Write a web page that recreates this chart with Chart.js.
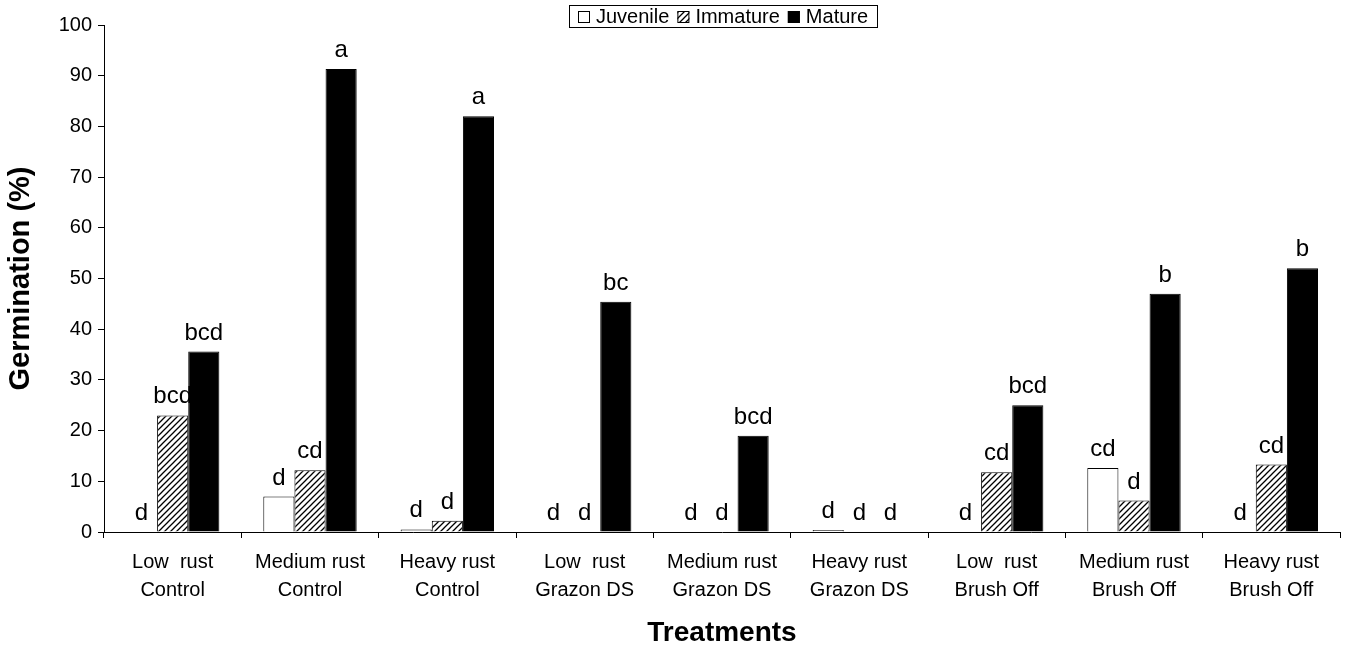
<!DOCTYPE html>
<html>
<head>
<meta charset="utf-8">
<script src="https://cdn.jsdelivr.net/npm/chart.js@4/dist/chart.umd.min.js"></script>
<style>
  body { margin: 0; background: #fff; }
  #wrap { width: 1350px; height: 650px; }
</style>
</head>
<body>
<div id="wrap"><canvas id="chart" width="1350" height="650"></canvas></div>
<script>
// data
const treatments = [
  ['Low  rust', 'Control'], ['Medium rust', 'Control'], ['Heavy rust', 'Control'],
  ['Low  rust', 'Grazon DS'], ['Medium rust', 'Grazon DS'], ['Heavy rust', 'Grazon DS'],
  ['Low  rust', 'Brush Off'], ['Medium rust', 'Brush Off'], ['Heavy rust', 'Brush Off']
];
const juvenile = [0, 7, 0.5, 0, 0, 0.4, 0, 12.6, 0];
const immature = [23, 12.2, 2.2, 0, 0, 0, 11.8, 6.2, 13.3];
const mature = [35.6, 91.3, 82, 45.4, 19, 0, 25, 47, 52];
const juvenileLetters = ['d', 'd', 'd', 'd', 'd', 'd', 'd', 'cd', 'd'];
const immatureLetters = ['bcd', 'cd', 'd', 'd', 'd', 'd', 'cd', 'd', 'cd'];
const matureLetters = ['bcd', 'a', 'a', 'bc', 'bcd', 'd', 'bcd', 'b', 'b'];

const FONT = '"Liberation Sans", Arial, sans-serif';

// diagonal hatch for the immature bars
function makeHatch() {
  const s = 6;
  const c = document.createElement('canvas');
  c.width = s; c.height = s;
  const g = c.getContext('2d');
  g.fillStyle = '#fff';
  g.fillRect(0, 0, s, s);
  g.strokeStyle = '#000';
  g.lineWidth = 1.3;
  g.beginPath();
  g.moveTo(0, s); g.lineTo(s, 0);
  g.moveTo(-1, 1); g.lineTo(1, -1);
  g.moveTo(s - 1, s + 1); g.lineTo(s + 1, s - 1);
  g.stroke();
  return g.createPattern(c, 'repeat');
}
const hatch = makeHatch();

// letters above each bar
const letterPlugin = {
  id: 'letters',
  afterDatasetsDraw(chart) {
    const ctx = chart.ctx;
    ctx.save();
    ctx.font = '24px ' + FONT;
    ctx.fillStyle = '#000';
    ctx.textAlign = 'center';
    ctx.textBaseline = 'alphabetic';
    chart.data.datasets.forEach((ds, i) => {
      const meta = chart.getDatasetMeta(i);
      meta.data.forEach((bar, j) => {
        ctx.fillText(ds.letters[j], bar.x, bar.y - 12);
      });
    });
    ctx.restore();
  }
};

// boxed legend drawn over the top of the plot
const boxLegend = {
  id: 'boxLegend',
  afterDraw(chart) {
    const ctx = chart.ctx;
    ctx.save();
    ctx.font = '20px ' + FONT;
    const sw = 12, gap = 6, itemGap = 8;
    const items = chart.data.datasets;
    let total = 0;
    items.forEach((ds, i) => {
      total += sw + gap + ctx.measureText(ds.label).width + (i < items.length - 1 ? itemGap : 0);
    });
    const padX = 9;
    const boxW = Math.round(total + padX * 2), boxH = 22;
    const x0 = Math.round(723 - boxW / 2), y0 = 5;
    ctx.fillStyle = '#fff';
    ctx.fillRect(x0, y0, boxW, boxH);
    ctx.strokeStyle = '#000';
    ctx.lineWidth = 1;
    ctx.strokeRect(x0 + 0.5, y0 + 0.5, boxW, boxH);
    let x = x0 + padX;
    const cy = y0 + boxH / 2 + 1;
    items.forEach(ds => {
      ctx.fillStyle = ds.backgroundColor;
      ctx.fillRect(x, cy - sw / 2, sw, sw);
      ctx.strokeStyle = '#000';
      ctx.strokeRect(x + 0.5, cy - sw / 2 + 0.5, sw - 1, sw - 1);
      x += sw + gap;
      ctx.fillStyle = '#000';
      ctx.textBaseline = 'middle';
      ctx.fillText(ds.label, x, cy);
      x += ctx.measureText(ds.label).width + itemGap;
    });
    ctx.restore();
  }
};

new Chart(document.getElementById('chart'), {
  type: 'bar',
  data: {
    labels: treatments,
    datasets: [
      { label: 'Juvenile', data: juvenile, letters: juvenileLetters, backgroundColor: '#fff', borderColor: '#000', borderWidth: 1 },
      { label: 'Immature', data: immature, letters: immatureLetters, backgroundColor: hatch, borderColor: '#000', borderWidth: 1 },
      { label: 'Mature', data: mature, letters: matureLetters, backgroundColor: '#000', borderColor: '#000', borderWidth: 1 }
    ]
  },
  options: {
    responsive: false,
    animation: false,
    layout: { padding: { left: 0, right: 10, top: 25, bottom: 0 } },
    datasets: { bar: { barPercentage: 1, categoryPercentage: 0.68 } },
    plugins: { legend: { display: false }, tooltip: { enabled: false } },
    scales: {
      x: {
        grid: { display: true, offset: true, drawOnChartArea: false, color: '#000', tickLength: 6 },
        border: { color: '#000' },
        ticks: {
          color: '#000', padding: 10, maxRotation: 0,
          font: { family: FONT, size: 20, lineHeight: 1.4 }
        },
        title: {
          display: true, text: 'Treatments', color: '#000',
          font: { family: FONT, size: 28, weight: 'bold' },
          padding: { top: 0, bottom: 0 }
        },
        afterFit(scale) { scale.height = 118; }
      },
      y: {
        min: 0, max: 100,
        grid: { display: true, drawOnChartArea: false, color: '#000', tickLength: 6 },
        border: { color: '#000' },
        ticks: {
          stepSize: 10, color: '#000', padding: 6,
          font: { family: FONT, size: 20 }
        },
        title: {
          display: true, text: 'Germination (%)', color: '#000',
          font: { family: FONT, size: 29, weight: 'bold' },
          padding: { top: 4, bottom: 0 }
        },
        afterFit(scale) { scale.width = 104; }
      }
    }
  },
  plugins: [letterPlugin, boxLegend]
});
</script>
</body>
</html>
